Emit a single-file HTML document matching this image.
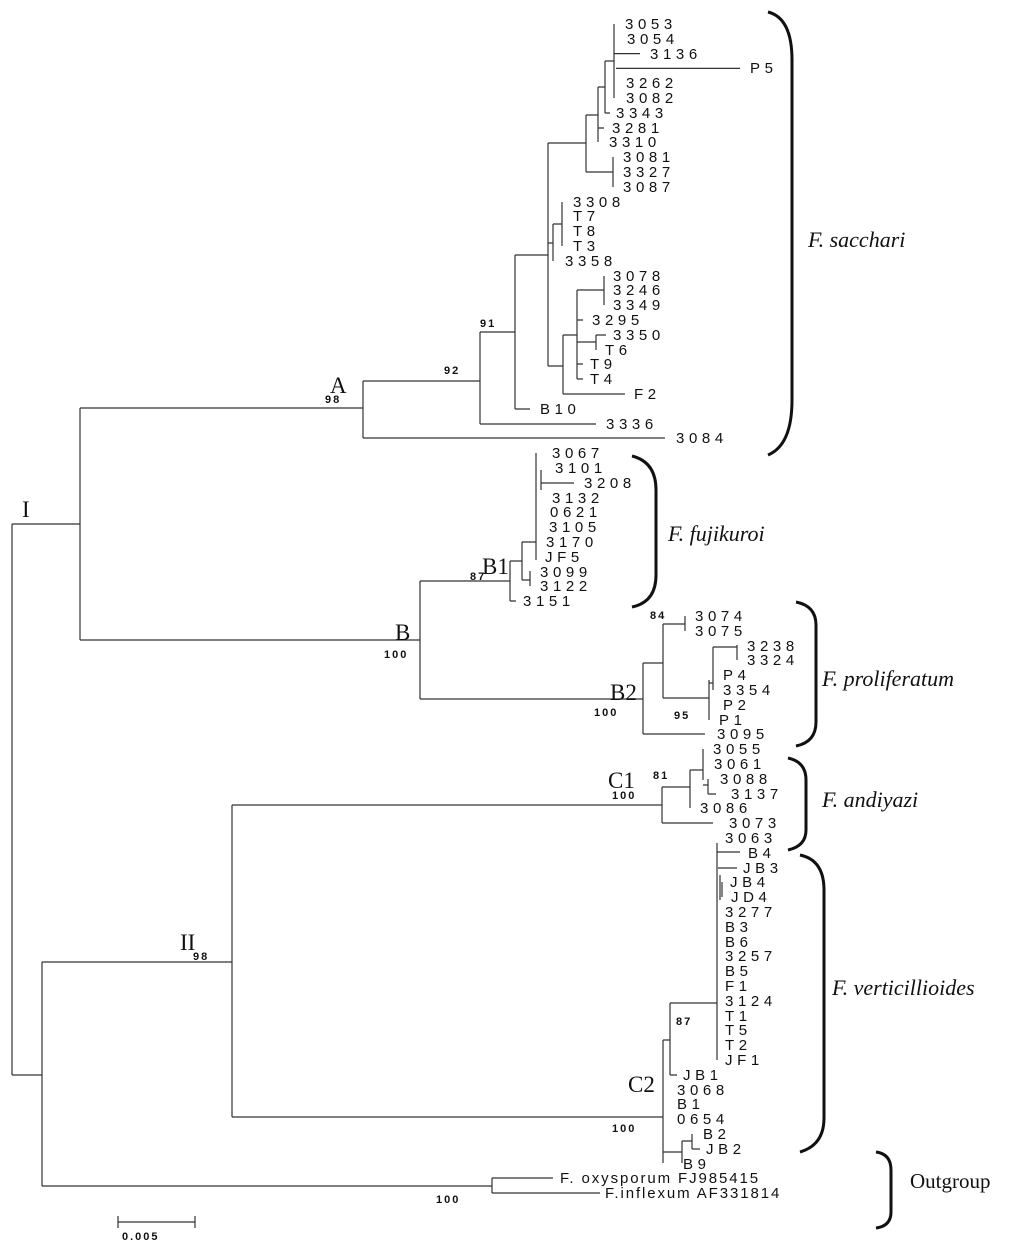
<!DOCTYPE html>
<html><head><meta charset="utf-8"><style>
html,body{margin:0;padding:0;background:#fff}
svg{display:block}
.t{font-family:"Liberation Sans",sans-serif;font-size:15px;letter-spacing:4.6px;fill:#111}
.b{font-family:"Liberation Sans",sans-serif;font-size:11px;letter-spacing:2px;font-weight:bold;fill:#111}
.s{font-family:"Liberation Serif",serif;font-size:23px;fill:#111}
.i{font-family:"Liberation Serif",serif;font-style:italic;font-size:22px;fill:#111}
</style></head><body>
<svg width="1024" height="1249" viewBox="0 0 1024 1249" xmlns="http://www.w3.org/2000/svg">
<g stroke="#333" stroke-width="1.2" fill="none">
<path d="M12 524V1075M12 524H80M12 1075H42M42 962V1186M42 962H232M42 1186H492
M80 408V640M80 408H363M80 640H420
M363 381V438M363 381H480M363 438H665
M480 332V424M480 332H515M480 424H596
M515 255V409M515 255H548M515 409H530
M548 143V366M548 143H586M548 243H553M548 366H563
M586 115V172M586 115H598M586 172H613
M598 87V142M598 87H605M598 128H604
M605 61V113M605 61H614M605 113H610
M614 24V98M614 53.6H640M616 68.4H740
M613 157V187
M553 224V261M553 224H562M562 202V246
M563 335V394M563 335H577M563 394H625
M577 290V379M577 290H604M577 342H596M577 320H583M577 364H583M577 379H583
M604 276V305M596 335V350M596 335H606
M420 581V699M420 581H510M420 699H643
M510 561V601M510 561H522M510 601H516
M522 542V580M522 542H536M522 580H530M530 571V586
M536 453V560M541 470V490M541 483H574
M643 663V734M643 663H663M643 734H705
M663 624V698M663 624H685M663 698H709M685 616V631
M709 680V720M709 683H713M713 647V690M713 647H737M737 645V660
M232 805V1117M232 805H662M232 1117H663
M662 787V823M662 787H690M662 823H713
M690 770V808M690 770H703M703 749V780M703 785H708M708 779V794M708 794H716
M663 1040V1163M663 1040H670M663 1152H682
M670 1003V1075M670 1003H717M670 1075H677
M717 843V1060M717 852H740M718 868H737M720 875V900M722 882V897
M682 1141V1163M682 1141H692M692 1134V1149M692 1149H700
M492 1178V1193M492 1178H553M492 1193H600
M118 1222H195M118 1216V1228M195 1216V1228"/>
</g>
<g stroke="#111" stroke-width="3" fill="none">
<path d="M768 12Q792 18 792 60V400Q792 445 768 455"/>
<path d="M632 456Q656 462 656 490V575Q656 602 632 607"/>
<path d="M796 602Q816 606 816 625V722Q816 742 796 746"/>
<path d="M788 758Q806 762 806 780V830Q806 846 788 850"/>
<path d="M800 855Q824 860 824 890V1118Q824 1145 800 1152"/>
<path d="M876 1152Q891 1154 891 1170V1212Q891 1226 876 1228"/>
</g>
<g class="t">
<text x="625" y="29">3053</text><text x="627" y="44">3054</text><text x="650" y="59">3136</text><text x="750" y="73">P5</text>
<text x="626" y="88">3262</text><text x="626" y="103">3082</text><text x="616" y="118">3343</text><text x="612" y="133">3281</text>
<text x="609" y="147">3310</text><text x="623" y="162">3081</text><text x="623" y="177">3327</text><text x="623" y="192">3087</text>
<text x="573" y="207">3308</text><text x="573" y="221">T7</text><text x="573" y="236">T8</text><text x="573" y="251">T3</text>
<text x="565" y="266">3358</text><text x="613" y="281">3078</text><text x="613" y="295">3246</text><text x="613" y="310">3349</text>
<text x="592" y="325">3295</text><text x="613" y="340">3350</text><text x="605" y="355">T6</text><text x="590" y="369">T9</text>
<text x="590" y="384">T4</text><text x="634" y="399">F2</text><text x="540" y="414">B10</text><text x="606" y="429">3336</text>
<text x="676" y="443">3084</text>
<text x="552" y="458">3067</text><text x="555" y="473">3101</text><text x="584" y="488">3208</text><text x="552" y="503">3132</text>
<text x="550" y="517">0621</text><text x="549" y="532">3105</text><text x="546" y="547">3170</text><text x="545" y="562">JF5</text>
<text x="540" y="577">3099</text><text x="540" y="591">3122</text><text x="523" y="606">3151</text>
<text x="695" y="621">3074</text><text x="695" y="636">3075</text><text x="747" y="651">3238</text><text x="747" y="665">3324</text>
<text x="723" y="680">P4</text><text x="723" y="695">3354</text><text x="723" y="710">P2</text><text x="719" y="725">P1</text>
<text x="717" y="739">3095</text>
<text x="713" y="754">3055</text><text x="714" y="769">3061</text><text x="720" y="784">3088</text><text x="731" y="799">3137</text>
<text x="700" y="813">3086</text><text x="729" y="828">3073</text><text x="725" y="843">3063</text>
<text x="748" y="858">B4</text><text x="743" y="873">JB3</text><text x="730" y="887">JB4</text><text x="731" y="902">JD4</text>
<text x="725" y="917">3277</text><text x="725" y="932">B3</text><text x="725" y="947">B6</text><text x="725" y="961">3257</text>
<text x="725" y="976">B5</text><text x="725" y="991">F1</text><text x="725" y="1006">3124</text><text x="725" y="1021">T1</text>
<text x="725" y="1035">T5</text><text x="725" y="1050">T2</text><text x="725" y="1065">JF1</text><text x="683" y="1080">JB1</text>
<text x="677" y="1095">3068</text><text x="677" y="1109">B1</text><text x="677" y="1124">0654</text><text x="703" y="1139">B2</text>
<text x="706" y="1154">JB2</text><text x="683" y="1169">B9</text>
<text x="560" y="1183" style="letter-spacing:1.9px">F. oxysporum FJ985415</text>
<text x="605" y="1198" style="letter-spacing:1.9px">F.inflexum AF331814</text>
</g>
<g class="b">
<text x="325" y="403">98</text><text x="444" y="374">92</text><text x="480" y="327">91</text>
<text x="470" y="580">87</text><text x="384" y="658">100</text><text x="650" y="619">84</text>
<text x="594" y="716">100</text><text x="674" y="719">95</text><text x="653" y="779">81</text>
<text x="612" y="799">100</text><text x="193" y="960">98</text><text x="676" y="1025">87</text>
<text x="612" y="1132">100</text><text x="436" y="1203">100</text>
<text x="122" y="1240">0.005</text>
</g>
<g class="s">
<text x="22" y="517">I</text><text x="180" y="950">II</text><text x="330" y="393">A</text><text x="395" y="640">B</text>
<text x="482" y="574">B1</text><text x="610" y="700">B2</text><text x="608" y="788">C1</text><text x="628" y="1092">C2</text>
<text x="910" y="1188" style="font-size:21px">Outgroup</text>
</g>
<g class="i">
<text x="808" y="247">F. sacchari</text><text x="668" y="541">F. fujikuroi</text>
<text x="822" y="686">F. proliferatum</text><text x="822" y="807">F. andiyazi</text>
<text x="832" y="995">F. verticillioides</text>
</g>
</svg>
</body></html>
